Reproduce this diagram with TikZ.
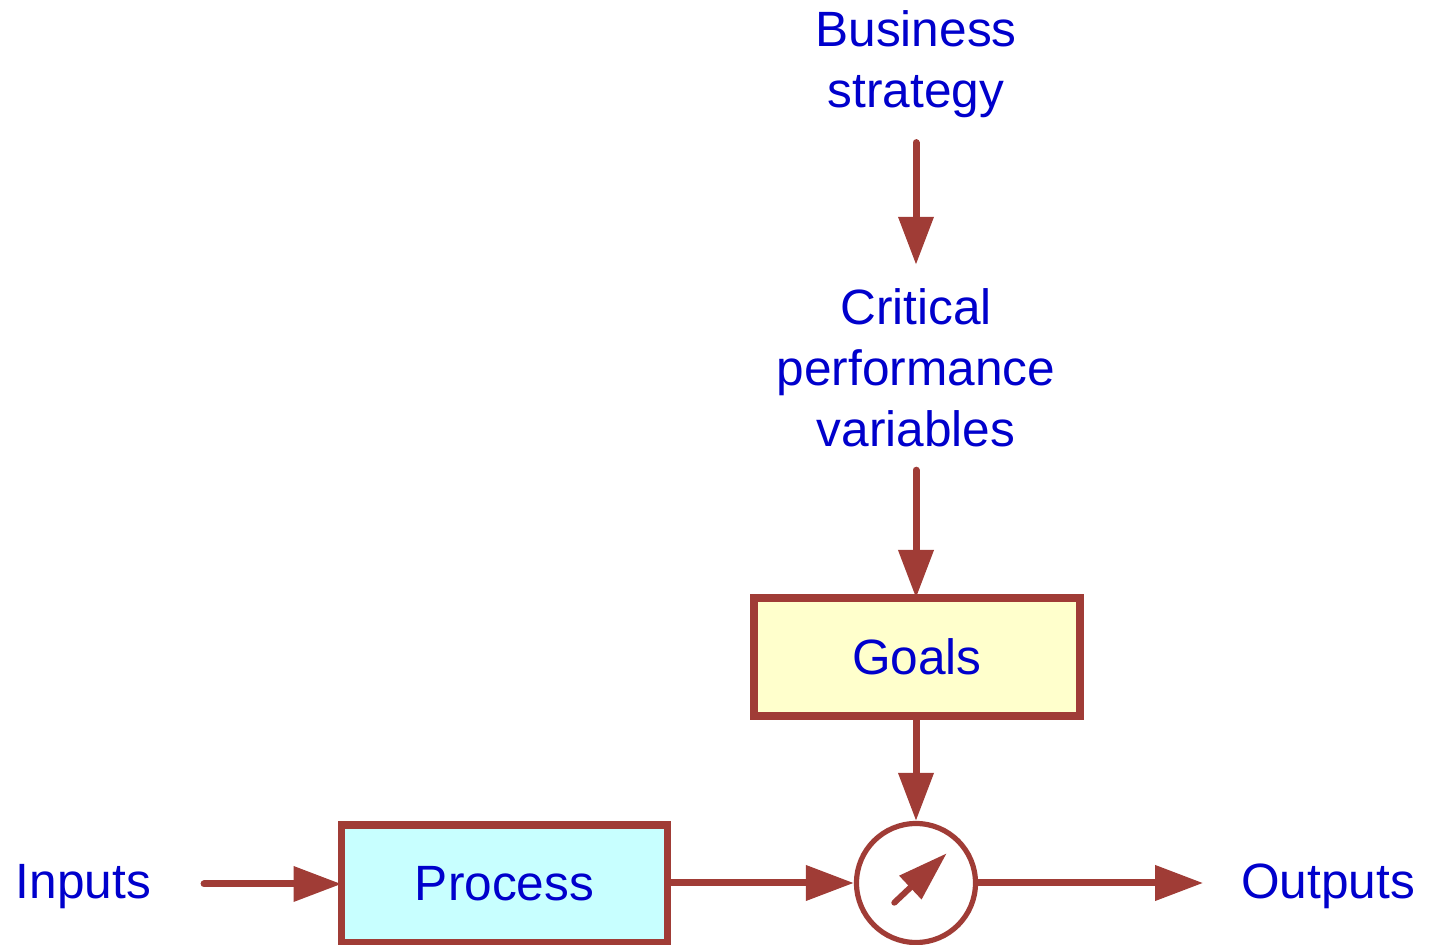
\documentclass[tikz,border=0pt]{standalone}
\usepackage{fontspec}
\setmainfont{Liberation Sans}
\usetikzlibrary{arrows.meta}
\definecolor{brn}{RGB}{160,60,54}
\definecolor{txtblue}{RGB}{0,0,204}
\definecolor{goalfill}{RGB}{255,255,204}
\definecolor{procfill}{RGB}{200,255,255}
\begin{document}
\begin{tikzpicture}[x=0.5pt,y=-0.5pt,
  lbl/.style={inner sep=0pt, outer sep=0pt, text=txtblue, align=center,
    font=\fontsize{24.8pt}{30.5pt}\selectfont},
  blk/.style={lbl, draw=brn, line width=3.6pt, outer sep=0pt,
    minimum width=163pt, minimum height=59pt},
  arr/.style={draw=brn, line width=3.5pt, line cap=round,
    -{Triangle[length=24pt,width=17pt]}},
  needle/.style={draw=brn, line width=3pt, line cap=round,
    -{Triangle[length=25pt,width=15.5pt]}}]
\useasboundingbox (0,0) rectangle (1431,945);

% labels
\node[lbl] (bs)  at (916,64)  {Business\\strategy};
\node[lbl] (cpv) at (916,368) {Critical\\performance\\variables};
\node[lbl, anchor=base] (inputs)  at (83.5,899) {Inputs};
\node[lbl, anchor=base] (outputs) at (1328,899) {Outputs};

% blocks
\node[blk, fill=goalfill] (goals)   at (917,657)   {Goals};
\node[blk, fill=procfill] (process) at (504.5,884) {Process};

% comparator
\node[circle, draw=brn, fill=white, line width=2.6pt, inner sep=0pt,
  minimum size=59.5pt] (circ) at (916,883) {};
\coordinate (nfrom) at (894.3,902.7);
\coordinate (nto)   at (946.7,853.3);
\draw[needle] (nfrom) -- (nto);

% connectors
\draw[arr, shorten <=12.5pt, shorten >=12pt] (bs.south) -- (cpv.north);
\draw[arr, shorten <=11.5pt] (cpv.south) -- (goals.north -| cpv.south);
\draw[arr] (goals.south -| circ.north) -- (circ.north);
\draw[arr, shorten <=26.5pt] (inputs.east |- process.west) -- (process.west);
\draw[arr] (process.east |- circ.west) -- (circ.west);
\draw[arr, shorten >=19pt] (circ.east) -- (outputs.west |- circ.east);
\end{tikzpicture}
\end{document}
